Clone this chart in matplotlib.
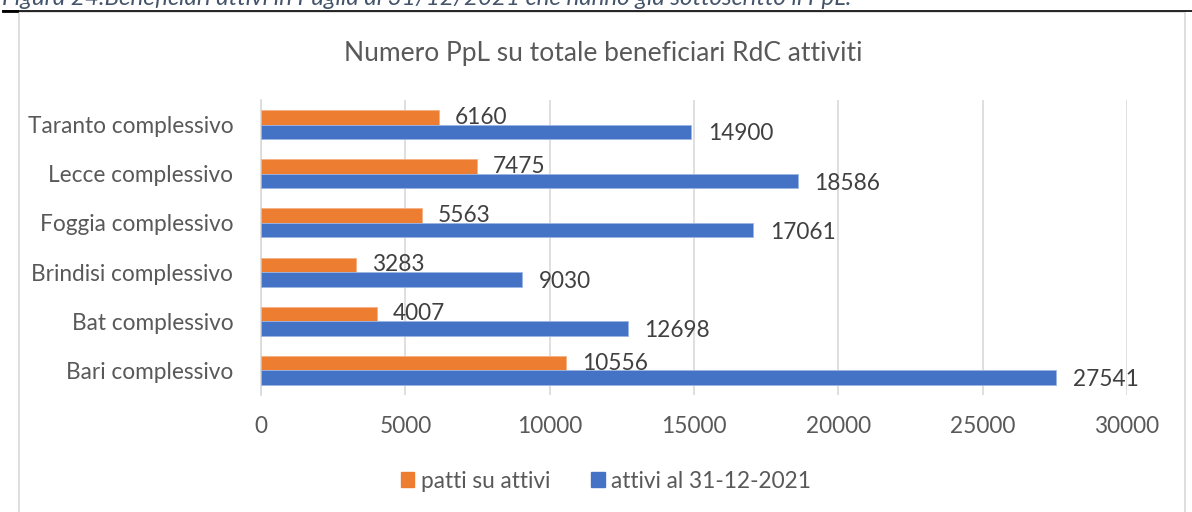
import numpy as np
import matplotlib
matplotlib.use("Agg")
import matplotlib.pyplot as plt
from matplotlib.patches import Rectangle
from matplotlib.lines import Line2D

# data, bottom row first
province = ["Bari complessivo", "Bat complessivo", "Brindisi complessivo",
            "Foggia complessivo", "Lecce complessivo", "Taranto complessivo"]
patti = [10556, 4007, 3283, 5563, 7475, 6160]
attivi = [27541, 12698, 9030, 17061, 18586, 14900]
series_names = ["patti su attivi", "attivi al 31-12-2021"]
xticks = [0, 5000, 10000, 15000, 20000, 25000, 30000]

caption = "Figura 24.Beneficiari attivi in Puglia al 31/12/2021 che hanno già sottoscritto il PpL."
title = "Numero PpL su totale beneficiari RdC attiviti"

ORANGE = "#ED7D31"
BLUE = "#4472C4"
GRID = "#D9D9D9"
TXT = "#595959"
LBL = "#404040"
FS = 16.3

plt.rcParams['font.family'] = ['Lato', 'DejaVu Sans']

W, H = 1192, 512
fig = plt.figure(figsize=(W / 100, H / 100), dpi=100)

def fx(px):
    return px / W

def fy(py):
    return 1 - py / H

# caption runs off the top edge, with the rule below it
fig.text(fx(2), fy(5), caption, fontsize=17.4, style='italic', color="#44546A",
         va='baseline', ha='left')
fig.add_artist(Line2D([fx(3), fx(W)], [fy(11), fy(11)], color="black", lw=1.2))
fig.add_artist(Line2D([fx(3), fx(17)], [fy(11), fy(11)], color="black", lw=2.0))

# chart frame
fig.add_artist(Rectangle((fx(19), fy(H + 20)), fx(1185 - 19), fy(12) - fy(H + 20),
                         fill=False, edgecolor=GRID, lw=1.2))

ax = fig.add_axes([fx(261), fy(395), fx(1127 - 261), fy(100) - fy(395)])

y = np.arange(len(province))
h = 0.295
ax.barh(y + h / 2, patti, height=h, color=ORANGE, edgecolor="#F4B183", lw=0.6,
        label=series_names[0], zorder=3)
ax.barh(y - h / 2, attivi, height=h, color=BLUE, edgecolor="#9DB5E3", lw=0.6,
        label=series_names[1], zorder=3)

for yi, v in zip(y, patti):
    ax.annotate(str(v), (v, yi + h / 2), xytext=(16, 0), textcoords='offset pixels',
                va='center', ha='left', fontsize=FS, color=LBL, zorder=4)
for yi, v in zip(y, attivi):
    ax.annotate(str(v), (v, yi - h / 2), xytext=(17, -2), textcoords='offset pixels',
                va='center', ha='left', fontsize=FS, color=LBL, zorder=4)

ax.set_xlim(0, 30000)
ax.set_ylim(-0.5, len(province) - 0.5)
ax.set_xticks(xticks)
ax.set_xticklabels([str(t) for t in xticks])
ax.set_yticks(y)
ax.set_yticklabels(province)
ax.tick_params(axis='both', length=0, labelsize=FS, labelcolor=TXT)
ax.tick_params(axis='x', pad=15)
ax.tick_params(axis='y', pad=20)
ax.grid(axis='x', color=GRID, lw=1.2, zorder=0)
for s in ["top", "right", "bottom"]:
    ax.spines[s].set_visible(False)
ax.spines["left"].set_color(GRID)
ax.spines["left"].set_linewidth(1.2)
ax.patch.set_alpha(0)

fig.text(fx(603), fy(53), title, fontsize=19, color=TXT, ha='center', va='center')

handles = [Rectangle((0, 0), 1, 1, color=ORANGE), Rectangle((0, 0), 1, 1, color=BLUE)]
fig.legend(handles, series_names, loc='center', bbox_to_anchor=(fx(606), fy(481)),
           ncol=2, frameon=False, fontsize=FS, labelcolor=TXT,
           handlelength=0.6, handleheight=0.6, handletextpad=0.3, columnspacing=1.8)

fig.savefig("out.png", dpi=100)
